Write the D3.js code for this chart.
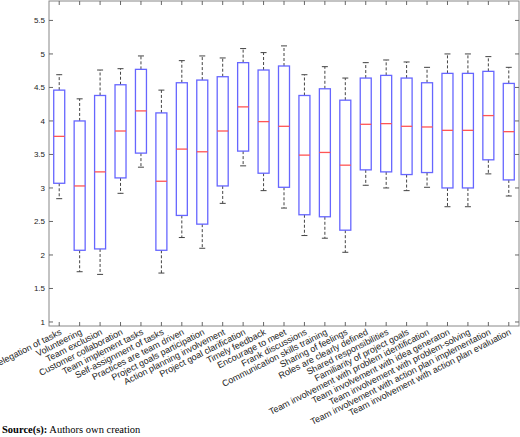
<!DOCTYPE html><html><head><meta charset="utf-8">
<script src="https://cdn.jsdelivr.net/npm/d3@7"></script>
<style>body{margin:0;background:#fff}</style></head><body><svg id="c" width="520" height="437"></svg>
<script>
const categories=["Delegation of tasks","Volunteering","Team exclusion","Customer collaboration","Team implement tasks","Self-assignment of tasks","Practices are team driven","Project goals participation","Action planning involvement","Project goal clarification","Timely feedback","Encourage to meet","Frank discussions","Communication skills training","Sharing of feelings","Roles are clearly defined","Shared responsibilities","Familiarity of project goals","Team involvement with problem identification","Team involvement with idea generaton","Team involvement with problem-solving","Team involvement with action plan implementation","Team involvement with action plan evaluation"];
const whiskerLow=[2.84,1.75,1.71,2.92,3.31,1.73,2.26,2.10,2.77,3.33,2.96,2.70,2.29,2.25,2.04,3.04,3.00,2.96,3.01,2.72,2.72,3.21,2.88];
const q1=[3.07,2.07,2.09,3.15,3.52,2.07,2.59,2.46,3.03,3.55,3.22,3.01,2.60,2.57,2.37,3.27,3.24,3.20,3.23,3.00,3.00,3.42,3.12];
const median=[3.77,3.03,3.24,3.85,4.15,3.10,3.58,3.54,3.85,4.21,3.99,3.92,3.49,3.53,3.34,3.95,3.96,3.92,3.91,3.86,3.86,4.08,3.84];
const q3=[4.46,4.00,4.38,4.54,4.77,4.12,4.57,4.61,4.66,4.87,4.76,4.82,4.38,4.48,4.31,4.64,4.68,4.64,4.57,4.71,4.71,4.74,4.56];
const whiskerHigh=[4.69,4.33,4.76,4.78,4.97,4.46,4.90,4.97,4.94,5.08,5.02,5.12,4.69,4.81,4.64,4.87,4.91,4.88,4.80,5.00,5.00,4.96,4.80];
const yTicks=[1,1.5,2,2.5,3,3.5,4,4.5,5,5.5];
const svg=d3.select("#c");
const L=49,R=519,T=1,B=326;
const x=d3.scaleBand().domain(categories).range([L,R]);
const y=d3.scaleLinear().domain([0.94,5.79]).range([B,T]);
const g=svg.append("g");
g.append("rect").attr("x",L).attr("y",T).attr("width",R-L).attr("height",B-T).attr("fill","none").attr("stroke","#888").attr("stroke-width",1);
yTicks.forEach(v=>{
 g.append("line").attr("x1",L).attr("x2",L+4).attr("y1",y(v)).attr("y2",y(v)).attr("stroke","#666");
 g.append("line").attr("x1",R-4).attr("x2",R).attr("y1",y(v)).attr("y2",y(v)).attr("stroke","#666");
 g.append("text").attr("x",L-4).attr("y",y(v)+3).attr("text-anchor","end").attr("font-family","Arial, Liberation Sans").attr("font-size",8).attr("fill","#222").text(v);
});
categories.forEach((c,i)=>{
 const cx=x(c)+x.bandwidth()/2;
 g.append("line").attr("x1",cx).attr("x2",cx).attr("y1",B).attr("y2",B-4).attr("stroke","#666");
 g.append("line").attr("x1",cx).attr("x2",cx).attr("y1",T).attr("y2",T+4).attr("stroke","#666");
 const w=11,h=3;
 g.append("line").attr("x1",cx).attr("x2",cx).attr("y1",y(q3[i])).attr("y2",y(whiskerHigh[i])).attr("stroke","#444").attr("stroke-dasharray","3,2");
 g.append("line").attr("x1",cx).attr("x2",cx).attr("y1",y(q1[i])).attr("y2",y(whiskerLow[i])).attr("stroke","#444").attr("stroke-dasharray","3,2");
 [whiskerHigh[i],whiskerLow[i]].forEach(v=>g.append("line").attr("x1",cx-h).attr("x2",cx+h).attr("y1",y(v)).attr("y2",y(v)).attr("stroke","#444"));
 g.append("rect").attr("x",cx-w/2).attr("y",y(q3[i])).attr("width",w).attr("height",y(q1[i])-y(q3[i])).attr("fill","none").attr("stroke","#6666ff").attr("stroke-width",1.3);
 g.append("line").attr("x1",cx-w/2).attr("x2",cx+w/2).attr("y1",y(median[i])).attr("y2",y(median[i])).attr("stroke","#ff5555").attr("stroke-width",1.3);
 g.append("text").attr("transform",`translate(${cx+3},${B+8}) rotate(-27)`).attr("text-anchor","end").attr("font-family","Arial, Liberation Sans").attr("font-size",9).attr("fill","#222").text(c);
});
const s=svg.append("text").attr("x",2).attr("y",433).attr("font-family","Liberation Serif, Times New Roman").attr("font-size",10.5);
s.append("tspan").attr("font-weight","bold").text("Source(s):");
s.append("tspan").text(" Authors own creation");
</script></body></html>
